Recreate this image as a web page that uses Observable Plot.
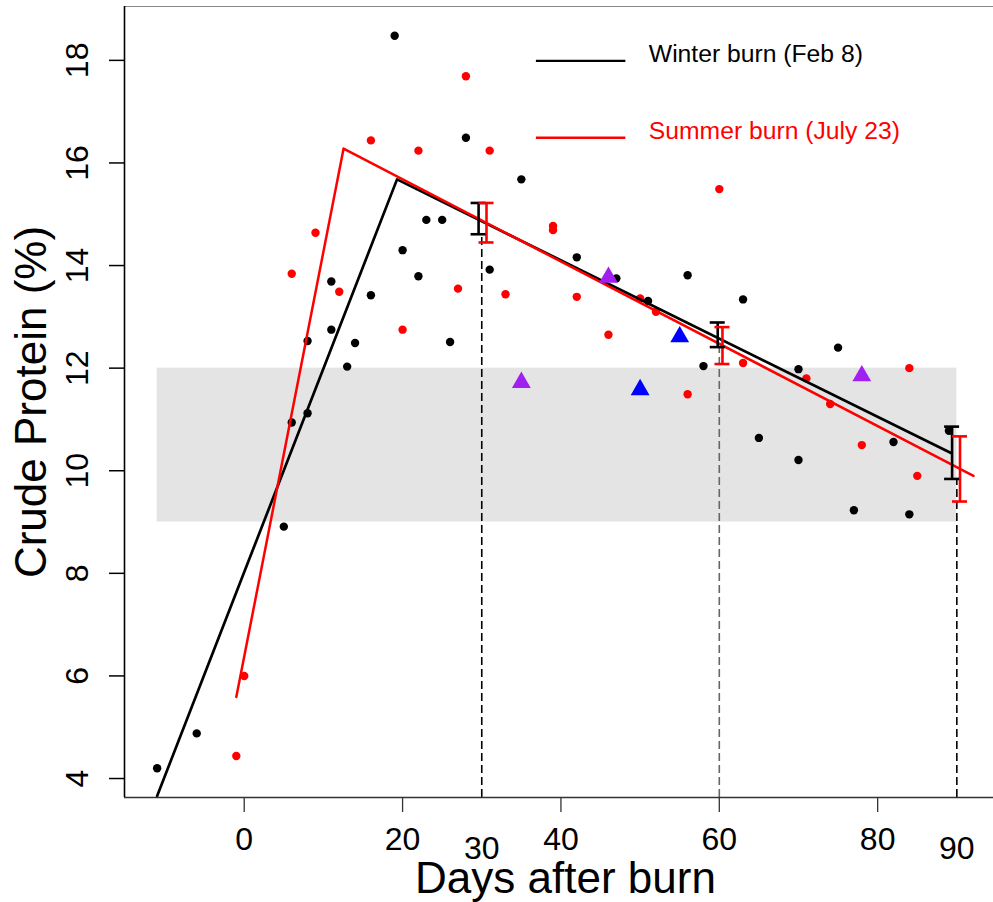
<!DOCTYPE html>
<html><head><meta charset="utf-8">
<script src="https://cdn.jsdelivr.net/npm/d3@7"></script>
<script src="https://cdn.jsdelivr.net/npm/@observablehq/plot@0.6"></script>
<style>body{margin:0;background:#fff;}</style>
</head><body><div id="chart"></div>
<script>
// Winter burn (Feb 8) observations (black)
const winterX = [-11, -6, 5, 6, 8, 8, 11, 11, 13, 14, 16, 19, 20, 22, 23, 25, 26, 28, 31, 35, 42, 47, 51, 56, 58, 63, 65, 70, 70, 75, 77, 82, 84, 89];
const winterY = [4.20, 4.88, 8.91, 10.94, 11.12, 12.53, 13.69, 12.75, 12.03, 12.49, 13.42, 18.48, 14.30, 13.79, 14.89, 14.89, 12.51, 16.49, 13.92, 15.68, 14.16, 13.75, 13.31, 13.81, 12.04, 13.34, 10.64, 11.98, 10.21, 12.40, 9.23, 10.56, 9.15, 10.78];
// Summer burn (July 23) observations (red)
const summerX = [-1, 0, 6, 9, 12, 16, 20, 22, 27, 28, 31, 33, 39, 39, 42, 46, 50, 52, 56, 60, 63, 71, 74, 78, 84, 85];
const summerY = [4.44, 6.00, 13.84, 14.64, 13.49, 16.44, 12.75, 16.24, 13.55, 17.69, 16.24, 13.44, 14.69, 14.77, 13.39, 12.65, 13.36, 13.10, 11.49, 15.49, 12.10, 11.80, 11.30, 10.50, 12.00, 9.90];
// Extra observations (triangles)
const purpleX = [35, 46, 78];
const purpleY = [11.72, 13.77, 11.85];
const blueX = [50, 55];
const blueY = [11.58, 12.61];
// Piecewise fitted lines
const winterFitX = [-11, 19.3, 89.2];
const winterFitY = [3.66, 15.68, 10.35];
const summerFitX = [-1.0, 12.55, 92.1];
const summerFitY = [5.59, 16.28, 9.90];
// Error bars at 30, 60, 90 days
const barDays = [30, 60, 90];
const winterBarX = [29.6, 59.8, 89.4];
const winterLo = [14.61, 12.41, 9.84];
const winterHi = [15.22, 12.89, 10.86];
const summerBarX = [30.6, 60.4, 90.4];
const summerLo = [14.45, 12.08, 9.40];
const summerHi = [15.22, 12.80, 10.67];
// Shaded band
const bandX = [-11, 90];
const bandY = [9, 12];
// Ticks
const xTicks = [0, 20, 40, 60, 80];
const xExtraTicks = [30, 90];
const yTicks = [4, 6, 8, 10, 12, 14, 16, 18];
const legendLabels = ["Winter burn (Feb 8)", "Summer burn (July 23)"];
const legendColors = ["black", "#ff0000"];

const xDomain = [-15.12, 94.63];
const yDomain = [3.63, 19.05];
const zip = (xs, ys) => xs.map((x, i) => ({x, y: ys[i]}));
const capHalf = 7.5 / ((993 - 124) / (xDomain[1] - xDomain[0]));

const winterPts = zip(winterX, winterY);
const summerPts = zip(summerX, summerY);
const purplePts = zip(purpleX, purpleY);
const bluePts = zip(blueX, blueY);
const winterFit = zip(winterFitX, winterFitY);
const summerFit = zip(summerFitX, summerFitY);
const bars = [
  ...barDays.map((d, i) => ({x: winterBarX[i], lo: winterLo[i], hi: winterHi[i], c: "black"})),
  ...barDays.map((d, i) => ({x: summerBarX[i], lo: summerLo[i], hi: summerHi[i], c: "#ff0000"}))
];
const caps = bars.flatMap(b => [{x: b.x, y: b.lo, c: b.c}, {x: b.x, y: b.hi, c: b.c}]);
const drops = barDays.map((d, i) => ({x: d, top: winterLo[i], c: i === 1 ? "#666" : "black"}));
const legend = legendLabels.map((t, i) => ({t, c: legendColors[i], y: [17.99, 16.49][i]}));

const font = "'Liberation Sans', Arial, Helvetica, sans-serif";
const chart = Plot.plot({
  width: 993, height: 902,
  marginLeft: 124, marginRight: 0, marginTop: 6, marginBottom: 105,
  x: {domain: xDomain},
  y: {domain: yDomain},
  style: {fontFamily: font, background: "#fff", color: "black"},
  marks: [
    Plot.rect([{x1: bandX[0], x2: bandX[1], y1: bandY[0], y2: bandY[1]}], {x1: "x1", x2: "x2", y1: "y1", y2: "y2", fill: "#e4e4e4"}),
    Plot.ruleX(drops, {x: "x", y1: yDomain[0], y2: "top", stroke: "c", strokeWidth: 1.6, strokeDasharray: "8,4"}),
    Plot.dot(winterPts, {x: "x", y: "y", r: 4.2, fill: "black", stroke: null}),
    Plot.dot(summerPts, {x: "x", y: "y", r: 4.2, fill: "#ff0000", stroke: null}),
    Plot.line(winterFit, {x: "x", y: "y", stroke: "black", strokeWidth: 2.7}),
    Plot.line(summerFit, {x: "x", y: "y", stroke: "#ff0000", strokeWidth: 2.5}),
    Plot.ruleX(bars, {x: "x", y1: "lo", y2: "hi", stroke: "c", strokeWidth: 2.6}),
    Plot.ruleY(caps, {y: "y", x1: d => d.x - capHalf, x2: d => d.x + capHalf, stroke: "c", strokeWidth: 2.6}),
    Plot.dot(purplePts, {x: "x", y: "y", r: 7, symbol: "triangle", fill: "#a020f0", stroke: null}),
    Plot.dot(bluePts, {x: "x", y: "y", r: 7, symbol: "triangle", fill: "#0000ff", stroke: null}),
    // frame
    Plot.ruleY([yDomain[1]], {stroke: "#888", strokeWidth: 1.2}),
    Plot.ruleY([yDomain[0]], {stroke: "#333", strokeWidth: 1.3}),
    Plot.ruleX([xDomain[0]], {stroke: "black", strokeWidth: 1.6}),
    // axes
    Plot.axisX({ticks: xTicks, tickSize: 15, tickPadding: 15, fontSize: 32, label: null, stroke: "#333", strokeWidth: 1.3}),
    Plot.text(xExtraTicks, {x: d => d, text: d => String(d), frameAnchor: "bottom", dy: 51.5, lineAnchor: "middle", fontSize: 32, fill: "black"}),
    Plot.axisY({ticks: yTicks, tickSize: 15, tickFormat: () => "", label: null, stroke: "black", strokeWidth: 1.5}),
    Plot.text(yTicks, {y: d => d, text: d => String(d), frameAnchor: "left", dx: -46.5, rotate: -90, textAnchor: "middle", lineAnchor: "middle", fontSize: 32, fill: "black"}),
    Plot.text(["Crude Protein (%)"], {frameAnchor: "left", dx: -93, rotate: -90, textAnchor: "middle", lineAnchor: "middle", fontSize: 44, fill: "black"}),
    Plot.text(["Days after burn"], {frameAnchor: "bottom", dx: 6.5, dy: 95, textAnchor: "middle", lineAnchor: "bottom", fontSize: 44, fill: "black"}),
    // legend
    Plot.ruleY(legend, {y: "y", x1: 36.9, x2: 48.2, stroke: "c", strokeWidth: 2.4}),
    Plot.text(legend, {x: 51.1, y: "y", text: "t", fill: "c", textAnchor: "start", lineAnchor: "bottom", dy: 1, fontSize: 24.7})
  ]
});
document.getElementById("chart").appendChild(chart);
</script>
</body></html>
